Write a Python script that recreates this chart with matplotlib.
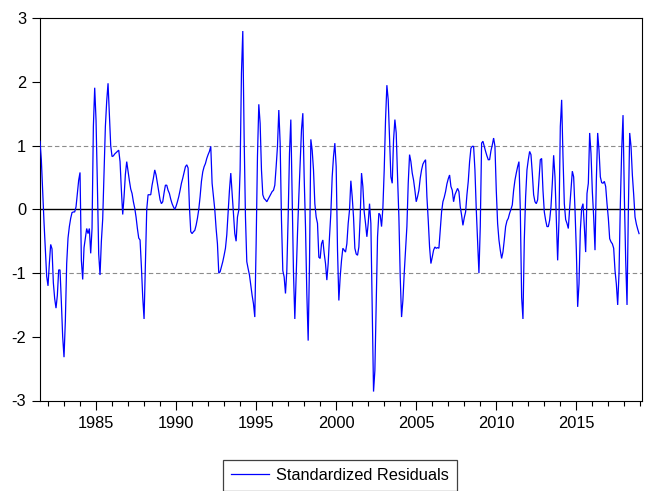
import numpy as np
import matplotlib
matplotlib.use("Agg")
import matplotlib.pyplot as plt
from matplotlib.ticker import MultipleLocator, FixedLocator
from matplotlib.lines import Line2D

plt.rcParams["font.family"] = ["Liberation Sans", "DejaVu Sans"]

# Monthly standardized residuals, 1981M07 - 2018M12
start_year = 1981.5
residuals = [
    # 1981M07 -
    1.07, 0.78, 0.28, -0.2, -0.61, -1.05, -1.2, -0.85, -0.55, -0.62,
    -1.15, -1.4, -1.55, -1.35, -0.95, -0.95, -1.45, -2.0, -2.32, -1.75,
    -0.85, -0.45, -0.27, -0.14, -0.05, -0.04, -0.04, 0.04, 0.25, 0.46,
    0.58, -0.8, -1.1, -0.6, -0.45, -0.3, -0.38, -0.3, -0.69, -0.3,
    1.3, 1.91, 1.4, 0.4, -0.7, -1.03, -0.5, -0.15, 0.6, 1.3,
    1.7, 1.98, 1.5, 1.0, 0.83, 0.84, 0.87, 0.89, 0.91, 0.93,
    0.75, 0.3, -0.08, 0.2, 0.55, 0.75, 0.6, 0.45, 0.32, 0.25,
    0.12, 0.02, -0.12, -0.3, -0.45,
    # 1987M10 -
    -0.48, -0.9, -1.38, -1.72, -0.85, 0.0, 0.23, 0.23, 0.23, 0.38,
    0.49, 0.62, 0.54, 0.41, 0.28, 0.15, 0.09, 0.12, 0.26, 0.38,
    0.38, 0.3, 0.25, 0.16, 0.09, 0.04, 0.0, 0.05, 0.12, 0.2,
    0.3, 0.41, 0.49, 0.58, 0.67, 0.7, 0.65, 0.04, -0.35, -0.38,
    -0.35, -0.33, -0.25, -0.14, 0.0, 0.2, 0.44, 0.59, 0.67, 0.72,
    0.8, 0.86, 0.91, 0.99, 0.41, 0.2, 0.0, -0.3, -0.54, -1.0,
    -0.98, -0.9, -0.82, -0.72, -0.61, -0.4, -0.06, 0.3, 0.57, 0.25,
    -0.06, -0.38, -0.5, -0.12,
    # 1993M12 -
    -0.01, 0.62, 2.14, 2.8, 1.14, -0.12, -0.82, -0.93, -1.03, -1.19,
    -1.35, -1.48, -1.69, -0.54, 0.83, 1.65, 1.35, 0.62, 0.23, 0.17,
    0.15, 0.12, 0.16, 0.2, 0.24, 0.28, 0.3, 0.38, 0.67, 0.99,
    1.56, 1.04, -0.17, -0.96, -1.06, -1.32, -0.96, -0.12, 0.88, 1.41,
    0.25, -1.0, -1.72, -1.06, -0.38, 0.2, 0.72, 1.25, 1.51, 0.51,
    -0.27, -1.32, -2.06, -0.85, 1.1, 0.93, 0.62, 0.09, -0.12, -0.22,
    -0.75, -0.77, -0.54, -0.48, -0.69, -0.85, -1.11, -0.85, -0.43, -0.06,
    0.51, 0.83, 1.04, 0.67,
    # 2000M02 -
    -0.64, -1.43, -1.06, -0.8, -0.61, -0.64, -0.67, -0.54, -0.22, -0.01,
    0.45, 0.2, -0.12, -0.61, -0.7, -0.72, -0.59, -0.12, 0.57, 0.36,
    -0.04, -0.22, -0.43, -0.22, 0.09, -0.22, -1.59, -2.86, -2.53, -1.48,
    -0.43, -0.06, -0.09, -0.27, 0.02, 0.62, 1.41, 1.95, 1.72, 1.09,
    0.51, 0.41, 1.09, 1.41, 1.2, 0.51, -0.12, -1.06, -1.69, -1.43,
    -1.0, -0.64, -0.27, 0.41, 0.86, 0.75, 0.57, 0.46, 0.3, 0.12,
    0.2, 0.3, 0.49, 0.62, 0.71, 0.75, 0.78, 0.2, -0.17, -0.59,
    -0.85, -0.75, -0.64, -0.59, -0.61,
    # 2006M05 -
    -0.6, -0.61, -0.33, -0.04, 0.12, 0.19, 0.28, 0.4, 0.48, 0.54,
    0.36, 0.3, 0.12, 0.23, 0.28, 0.33, 0.28, 0.04, -0.09, -0.25,
    -0.13, -0.04, 0.23, 0.44, 0.75, 0.96, 0.99, 0.99, 0.62, 0.0,
    -0.48, -1.0, -0.27, 1.04, 1.07, 0.99, 0.91, 0.84, 0.78, 0.78,
    0.92, 1.01, 1.12, 0.99, 0.3, -0.22, -0.48, -0.64, -0.77, -0.67,
    -0.48, -0.27, -0.18, -0.14, -0.06, 0.0, 0.07, 0.3, 0.46, 0.57,
    0.67, 0.75, 0.0, -1.38, -1.72, -0.48, 0.2, 0.62, 0.78, 0.91,
    0.86, 0.57, 0.23, 0.12, 0.09,
    # 2012M08 -
    0.15, 0.46, 0.78, 0.8, 0.3, -0.04, -0.17, -0.27, -0.27, -0.17,
    0.04, 0.41, 0.85, 0.51, -0.12, -0.8, -0.17, 1.3, 1.72, 0.83,
    0.09, -0.16, -0.22, -0.3, 0.02, 0.3, 0.6, 0.51, 0.0, -0.64,
    -1.53, -1.17, -0.33, 0.02, 0.09, -0.27, -0.67, 0.25, 0.41, 1.2,
    0.88, 0.28, -0.12, -0.64, 0.46, 1.2, 0.93, 0.51, 0.42, 0.41,
    0.44, 0.36, 0.09, -0.14, -0.46, -0.51, -0.54, -0.61, -0.96, -1.17,
    -1.5, -1.0, 0.09, 0.93, 1.48, 0.2, -0.8, -1.5, -0.01, 1.2,
    0.99, 0.54, 0.23, -0.12, -0.23, -0.31, -0.38,
]
label_years = [1985, 1990, 1995, 2000, 2005, 2010, 2015]
y_ticks = [-3, -2, -1, 0, 1, 2, 3]
series_name = "Standardized Residuals"

dates = start_year + np.arange(len(residuals)) / 12.0

fig = plt.figure(figsize=(6.49, 4.91), dpi=100)
ax = fig.add_axes([40 / 649, 1 - 400.5 / 491, 601.7 / 649, 382.2 / 491])

# Reference lines at 0 and +/-1
ax.axhline(0, color="black", lw=1.0, zorder=2)
for lvl in (-1, 1):
    ax.axhline(lvl, color="#8c8c8c", lw=0.8, ls=(0, (4, 2.5)), zorder=2)

ax.plot(dates, residuals, color="#0000ff", lw=0.9, zorder=3,
        solid_joinstyle="miter")

ax.set_xlim(start_year, start_year + 451 / 12.0)
ax.set_ylim(-3, 3)

ax.xaxis.set_major_locator(FixedLocator(label_years))
ax.xaxis.set_minor_locator(MultipleLocator(1))
ax.set_xticklabels([str(y) for y in label_years])
ax.yaxis.set_major_locator(FixedLocator(y_ticks))
ax.set_yticklabels([str(v) for v in y_ticks])

ax.tick_params(axis="x", which="major", direction="out", length=6.5,
               width=0.8, pad=4.5, labelsize=11.8, colors="black")
ax.tick_params(axis="x", which="minor", direction="out", length=3.8,
               width=0.8)
ax.tick_params(axis="y", which="major", direction="out", length=5.5,
               width=0.8, pad=4.5, labelsize=11.8, colors="black")
ax.tick_params(axis="y", which="minor", left=False)
ax.tick_params(top=False, right=False)

for sp in ax.spines.values():
    sp.set_color("black")
    sp.set_linewidth(0.8)

handle = Line2D([], [], color="#0000ff", lw=0.9)
leg = fig.legend([handle], [series_name], loc="upper center",
                 bbox_to_anchor=(340 / 649, 1 - 460 / 491),
                 fontsize=11.8, frameon=True, fancybox=False,
                 edgecolor="#404040", framealpha=1, handlelength=2.3,
                 handletextpad=0.4, borderpad=0.5, borderaxespad=0)
leg.get_frame().set_linewidth(0.9)

fig.savefig("out.png", dpi=100, facecolor="white")
